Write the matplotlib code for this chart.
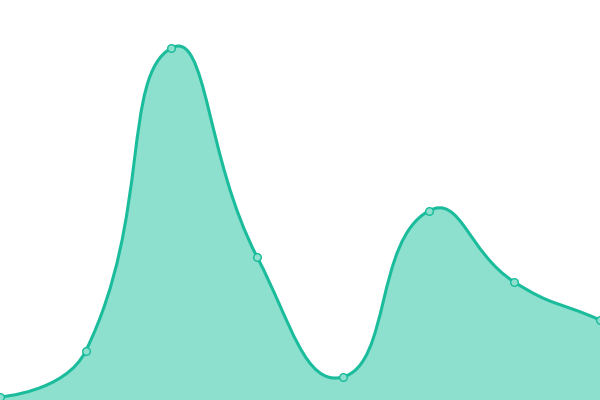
import numpy as np
import matplotlib
matplotlib.use("Agg")
import matplotlib.pyplot as plt
from matplotlib.path import Path
from matplotlib.patches import PathPatch

# data
cats = list(range(8))
vals = [0.75, 12.25, 88.0, 35.75, 5.75, 47.25, 29.5, 20.0]

line_col = "#1abc9c"
fill_col = "#8ce0cd"

W, H = 600, 400
XMAX, YMAX = 7, 100
sx, sy = W / XMAX, H / YMAX


def smooth_path(xs, ys, smooth=0.5):
    # echarts-like bezier smoothing, done in pixel space
    px = np.array(xs, float) * sx
    py = np.array(ys, float) * sy
    n = len(px)
    verts = [(px[0], py[0])]
    codes = [Path.MOVETO]
    cx0, cy0 = px[0], py[0]
    for i in range(1, n):
        x, y = px[i], py[i]
        prx, pry = px[i - 1], py[i - 1]
        if i + 1 < n:
            nx, ny = px[i + 1], py[i + 1]
        else:
            nx, ny = x, y
        vx, vy = nx - prx, ny - pry
        lp = np.hypot(x - prx, y - pry)
        ln = np.hypot(x - nx, y - ny)
        r = ln / (ln + lp) if (ln + lp) > 0 else 0.5
        cx1 = x - vx * smooth * (1 - r)
        cy1 = y - vy * smooth * (1 - r)
        verts += [(cx0, cy0), (cx1, cy1), (x, y)]
        codes += [Path.CURVE4] * 3
        cx0 = x + vx * smooth * r
        cy0 = y + vy * smooth * r
    verts = [(a / sx, b / sy) for a, b in verts]
    return verts, codes


fig = plt.figure(figsize=(6, 4), dpi=100)
ax = fig.add_axes([0, 0, 1, 1])

verts, codes = smooth_path(cats, vals)

# area
fv = verts + [(cats[-1], 0), (cats[0], 0), verts[0]]
fc = codes + [Path.LINETO, Path.LINETO, Path.CLOSEPOLY]
ax.add_patch(PathPatch(Path(fv, fc), facecolor=fill_col, edgecolor="none"))

# line
ax.add_patch(PathPatch(Path(verts, codes), facecolor="none",
                       edgecolor=line_col, lw=2.2, capstyle="round"))

ax.plot(cats, vals, "o", ms=5.5, mfc=fill_col, mec=line_col, mew=1,
        zorder=5, clip_on=False)

ax.set_xlim(0, XMAX)
ax.set_ylim(0, YMAX)
ax.axis("off")

fig.savefig("out.png", dpi=100)
